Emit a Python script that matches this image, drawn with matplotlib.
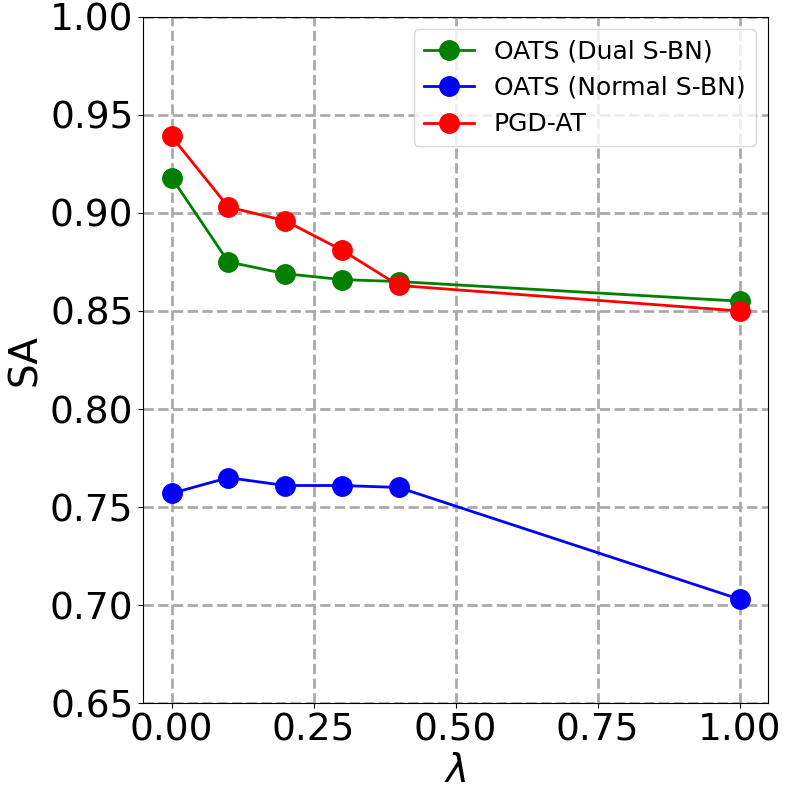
import matplotlib
matplotlib.use("Agg")
import matplotlib.pyplot as plt

lam = [0.0, 0.1, 0.2, 0.3, 0.4, 1.0]
oats_dual = [0.918, 0.875, 0.869, 0.866, 0.865, 0.855]
oats_normal = [0.757, 0.765, 0.761, 0.761, 0.760, 0.703]
pgd_at = [0.939, 0.903, 0.896, 0.881, 0.863, 0.850]
labels = ["OATS (Dual S-BN)", "OATS (Normal S-BN)", "PGD-AT"]
colors = ["green", "blue", "red"]

fig = plt.figure(figsize=(8, 8), dpi=100)
ax = fig.add_axes([0.179, 0.121, 0.781, 0.858])
for ys, lab, c in zip([oats_dual, oats_normal, pgd_at], labels, colors):
    ax.plot(lam, ys, marker="o", color=c, label=lab, markersize=14, linewidth=2)
ax.set_ylim(0.65, 1.00)
ax.set_yticks([0.65, 0.70, 0.75, 0.80, 0.85, 0.90, 0.95, 1.00])
ax.set_xticks([0.0, 0.25, 0.5, 0.75, 1.0])
ax.tick_params(labelsize=27)
ax.set_xlabel(r"$\lambda$", fontsize=28, labelpad=2)
ax.set_ylabel("SA", fontsize=28)
ax.grid(True, linestyle="--", color="#aaaaaa", linewidth=2)
ax.legend(fontsize=18, loc="upper right")
fig.savefig("out.png", dpi=100)
